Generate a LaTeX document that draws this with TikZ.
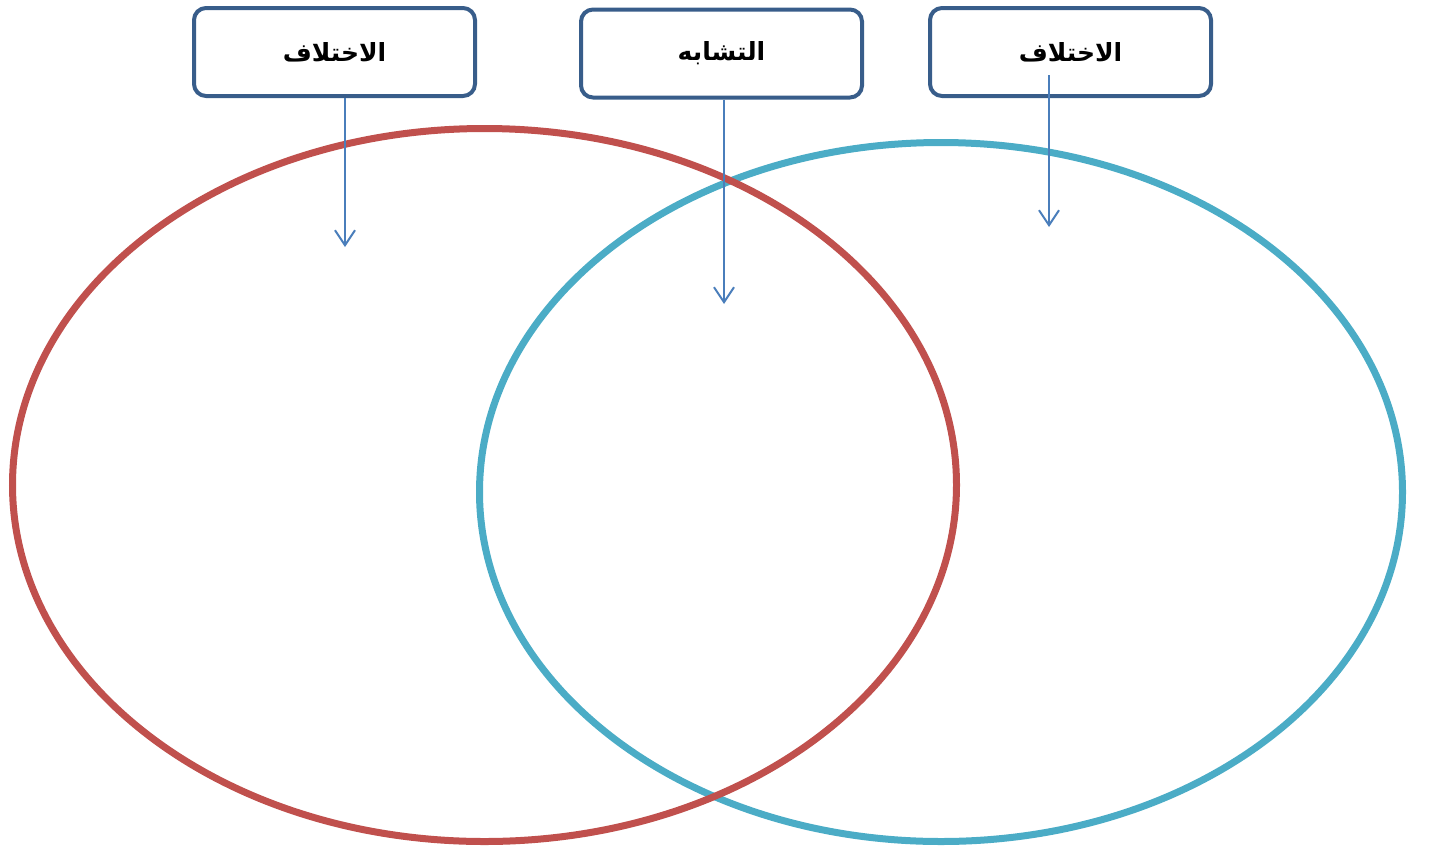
\documentclass[tikz,border=0pt]{standalone}
\usepackage{fontspec}
\usepackage{tikz}
\usetikzlibrary{arrows.meta}
\TeXXeTstate=1
\newfontfamily\arabicfont[Script=Arabic]{DejaVu Sans}
\definecolor{vennred}{HTML}{C0504D}
\definecolor{venncyan}{HTML}{4BACC6}
\definecolor{boxblue}{HTML}{385D8A}
\definecolor{arrblue}{HTML}{4A7EBB}
\tikzset{
    labelbox/.style={draw=boxblue, line width=4pt, rounded corners=12pt,
    	fill=white, minimum width=281pt, minimum height=88pt,
    	font=\arabicfont\bfseries\fontsize{25}{30}\selectfont}
}
\tikzset{
    ring/.style={line width=7pt}
}
\tikzset{
	pointer/.style={draw=arrblue, line width=2pt,
		-{Straight Barb[length=15pt,width=20pt]}}
}

\begin{document}
\begin{tikzpicture}[x=1pt,y=-1pt]
	\useasboundingbox (0,0) rectangle (1429,847);
	\draw[ring, venncyan] (941,492) ellipse [x radius=461.5, y radius=349.5];
	\draw[ring, vennred] (484.5,485) ellipse [x radius=472, y radius=356.5];
	
	\node[labelbox] (left) at (334.5,52) {\beginR الاختلاف\endR};
	\node[labelbox] (mid) at (721.5,53.5) {\beginR التشابه\endR};
	\node[labelbox] (right) at (1070.5,52) {\beginR الاختلاف\endR};
	
	\coordinate (lefttip) at (345,247);
	\coordinate (midtip) at (724,304);
	\coordinate (righttail) at (1049,75);
	\coordinate (righttip) at (1049,227);
	
	\draw[pointer] (left.south -| lefttip) -- (lefttip);
	\draw[pointer] (mid.south -| midtip) -- (midtip);
	\draw[pointer] (righttail) -- (righttip);
\end{tikzpicture}
\end{document}
